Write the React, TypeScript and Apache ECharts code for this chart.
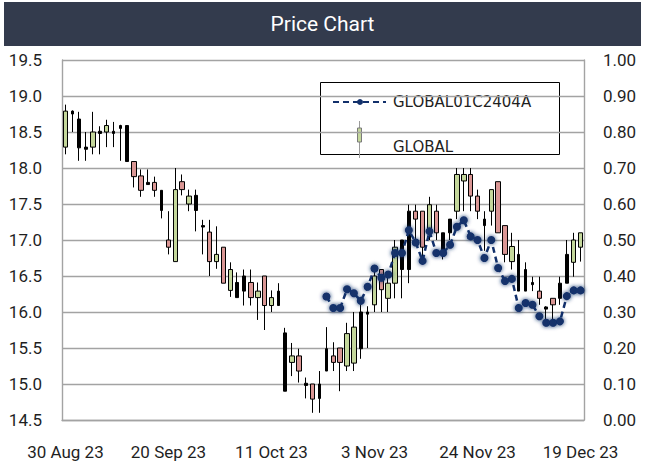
import React, { useEffect, useRef } from "react";
import * as echarts from "echarts";

// Trading days (category axis)
const dates: string[] = [
  "30 Aug 23", "31 Aug 23", "1 Sep 23", "4 Sep 23", "5 Sep 23", "6 Sep 23", "7 Sep 23", "8 Sep 23",
  "11 Sep 23", "12 Sep 23", "13 Sep 23", "14 Sep 23", "15 Sep 23", "18 Sep 23", "19 Sep 23", "20 Sep 23",
  "21 Sep 23", "22 Sep 23", "25 Sep 23", "26 Sep 23", "27 Sep 23", "28 Sep 23", "29 Sep 23",
  "2 Oct 23", "3 Oct 23", "4 Oct 23", "5 Oct 23", "6 Oct 23", "9 Oct 23", "10 Oct 23", "11 Oct 23",
  "12 Oct 23", "16 Oct 23", "17 Oct 23", "18 Oct 23", "19 Oct 23", "20 Oct 23", "24 Oct 23", "25 Oct 23",
  "26 Oct 23", "27 Oct 23", "30 Oct 23", "31 Oct 23", "1 Nov 23", "2 Nov 23", "3 Nov 23",
  "6 Nov 23", "7 Nov 23", "8 Nov 23", "9 Nov 23", "10 Nov 23", "13 Nov 23", "14 Nov 23", "15 Nov 23",
  "16 Nov 23", "17 Nov 23", "20 Nov 23", "21 Nov 23", "22 Nov 23", "23 Nov 23", "24 Nov 23",
  "27 Nov 23", "28 Nov 23", "29 Nov 23", "30 Nov 23", "1 Dec 23", "4 Dec 23", "6 Dec 23", "7 Dec 23",
  "8 Dec 23", "12 Dec 23", "13 Dec 23", "14 Dec 23", "15 Dec 23", "18 Dec 23", "19 Dec 23",
];

// GLOBAL OHLC
const opens: number[] = [
  18.29, 18.79, 18.68, 18.29, 18.29, 18.51, 18.50, 18.51, 18.59, 18.59,
  18.09, 17.89, 17.80, 17.80, 17.69, 17.00, 16.70, 17.81, 17.50, 17.62,
  17.20, 17.11, 16.70, 16.90, 16.30, 16.41, 16.50, 16.41, 16.20, 16.50,
  16.09, 16.29, 15.71, 15.30, 15.39, 15.01, 15.00, 15.00, 15.49, 15.39,
  15.50, 15.25, 15.29, 16.00, 16.00, 16.10, 16.59, 16.19, 16.40, 17.00,
  17.40, 17.40, 17.40, 17.10, 17.40, 17.10, 17.29, 17.40, 17.82, 17.91,
  17.61, 17.29, 17.40, 17.81, 17.20, 16.70, 16.80, 16.59, 16.41, 16.29,
  16.07, 16.19, 16.40, 16.80, 16.69, 16.90,
];
const closes: number[] = [
  18.79, 18.75, 18.28, 18.26, 18.50, 18.48, 18.59, 18.48, 18.55, 18.09,
  17.88, 17.69, 17.77, 17.69, 17.41, 16.90, 17.70, 17.70, 17.61, 17.41,
  17.18, 16.70, 16.80, 16.40, 16.59, 16.20, 16.29, 16.20, 16.29, 16.09,
  16.20, 16.09, 14.90, 15.39, 15.18, 14.98, 14.79, 14.80, 15.18, 15.30,
  15.30, 15.70, 15.79, 15.49, 15.97, 16.50, 16.31, 16.40, 16.90, 16.59,
  16.59, 17.29, 16.90, 17.49, 17.10, 16.84, 17.10, 17.91, 17.91, 17.61,
  17.40, 17.20, 17.70, 17.10, 16.80, 16.91, 16.29, 16.29, 16.38, 16.19,
  16.04, 16.10, 16.19, 16.40, 17.00, 17.10,
];
const lows: number[] = [
  18.19, 18.50, 18.10, 18.10, 18.19, 18.19, 18.29, 18.29, 18.10, 18.09,
  17.73, 17.60, 17.77, 17.60, 17.30, 16.80, 16.70, 17.62, 17.40, 17.12,
  16.80, 16.50, 16.60, 16.40, 16.21, 16.20, 16.09, 16.09, 15.89, 15.75,
  16.00, 16.09, 14.90, 15.11, 15.02, 14.80, 14.60, 14.60, 15.18, 15.18,
  14.90, 15.18, 15.18, 15.35, 15.50, 16.00, 16.00, 16.00, 16.19, 16.19,
  16.40, 17.00, 16.68, 17.00, 17.00, 16.73, 17.00, 17.29, 17.40, 17.40,
  17.29, 16.85, 17.20, 17.10, 16.69, 16.59, 16.29, 16.29, 16.29, 16.10,
  15.85, 15.85, 16.10, 16.40, 16.49, 16.70,
];
const highs: number[] = [
  18.88, 18.80, 18.78, 18.50, 18.78, 18.58, 18.67, 18.64, 18.60, 18.59,
  18.09, 17.98, 17.98, 17.88, 17.69, 17.40, 18.00, 17.91, 17.70, 17.70,
  17.28, 17.28, 17.19, 16.90, 16.69, 16.55, 16.59, 16.59, 16.41, 16.50,
  16.30, 16.40, 15.78, 15.57, 15.49, 15.09, 15.00, 15.18, 15.79, 15.58,
  15.50, 15.85, 16.00, 16.10, 16.08, 16.59, 16.59, 16.50, 17.00, 17.00,
  17.49, 17.49, 17.40, 17.60, 17.49, 17.10, 17.29, 18.00, 18.00, 18.00,
  17.70, 17.40, 17.70, 17.81, 17.20, 17.10, 17.00, 16.69, 16.49, 16.49,
  16.08, 16.19, 16.49, 17.00, 17.10, 17.10,
];
// indices of candles drawn as solid black bars
const solidBars: number[] = [
  1, 2, 3, 5, 7, 8, 9, 12, 14, 19, 20, 25, 26, 31, 32, 35, 37, 38, 43, 44,
  49, 50, 55, 56, 61, 66, 67, 68, 70, 72, 73,
];

// GLOBAL01C2404A (right axis), starting at index DW_START
const DW_START = 38;
const dwValues: number[] = [
  0.343, 0.311, 0.311, 0.363, 0.352, 0.331, 0.370, 0.421, 0.395, 0.404,
  0.464, 0.464, 0.527, 0.493, 0.442, 0.524, 0.464, 0.464, 0.487, 0.537,
  0.555, 0.510, 0.500, 0.450, 0.500, 0.422, 0.386, 0.392, 0.311, 0.325,
  0.320, 0.288, 0.270, 0.270, 0.274, 0.344, 0.360, 0.360,
];

const NAVY = "#12306b";
const AXIS_FONT = "Roboto";
const TEXT_COLOR = "#1f1f1f";
const GRID_COLOR = "#a3a3a3";

export default function App() {
  const ref = useRef<HTMLDivElement>(null);

  useEffect(() => {
    if (!ref.current) return;
    const chart = echarts.init(ref.current, undefined, { renderer: "svg" });
    const empty = ["-", "-", "-", "-"];
    const ohlc = dates.map((_, i) => [opens[i], closes[i], lows[i], highs[i]]);
    const solidSet = new Set(solidBars);
    const candleData = ohlc.map((v, i) => (solidSet.has(i) ? empty : v));
    const solidData = ohlc.map((v, i) => (solidSet.has(i) ? v : empty));
    const dwData = dates.map((_, i) => (i < DW_START ? null : dwValues[i - DW_START]));

    const option: any = {
      animation: false,
      backgroundColor: "#ffffff",
      grid: { left: 62, right: 61, top: 60, bottom: 41, containLabel: false, outerBoundsMode: "none" },
      xAxis: {
        type: "category",
        data: dates,
        boundaryGap: true,
        axisLine: { show: true, lineStyle: { color: GRID_COLOR, width: 1.4 } },
        axisTick: { show: false },
        axisLabel: { interval: 14, color: TEXT_COLOR, fontSize: 17, fontFamily: AXIS_FONT, margin: 23 },
        splitLine: { show: false },
      },
      yAxis: [
        {
          type: "value",
          min: 14.5,
          max: 19.5,
          interval: 0.5,
          position: "left",
          axisLine: { show: true, lineStyle: { color: GRID_COLOR, width: 1.4 } },
          axisTick: { show: false },
          axisLabel: {
            formatter: (v: number) => v.toFixed(1),
            color: TEXT_COLOR,
            fontSize: 17,
            fontFamily: AXIS_FONT,
            margin: 20,
          },
          splitLine: { show: true, lineStyle: { color: GRID_COLOR, width: 1.4 } },
        },
        {
          type: "value",
          min: 0,
          max: 1,
          interval: 0.1,
          position: "right",
          axisLine: { show: true, lineStyle: { color: GRID_COLOR, width: 1.4 } },
          axisTick: { show: false },
          axisLabel: {
            formatter: (v: number) => v.toFixed(2),
            color: TEXT_COLOR,
            fontSize: 17,
            fontFamily: AXIS_FONT,
            margin: 19,
          },
          splitLine: { show: false },
        },
      ],
      series: [
        {
          name: "GLOBAL",
          type: "candlestick",
          data: candleData,
          barWidth: 5,
          itemStyle: {
            color: "#c4d79b",
            color0: "#da9694",
            borderColor: "#000000",
            borderColor0: "#000000",
            borderColorDoji: "#000000",
            borderWidth: 1,
          },
          z: 2,
        },
        {
          name: "GLOBAL",
          type: "candlestick",
          data: solidData,
          barWidth: 3,
          itemStyle: {
            color: "#000000",
            color0: "#000000",
            borderColor: "#000000",
            borderColor0: "#000000",
            borderColorDoji: "#000000",
            borderWidth: 1,
          },
          z: 2,
        },
        {
          name: "GLOBAL01C2404A",
          type: "line",
          yAxisIndex: 1,
          data: dwData,
          symbol: "circle",
          symbolSize: 8,
          showSymbol: true,
          showAllSymbol: true,
          connectNulls: false,
          lineStyle: { color: NAVY, width: 2.5, type: [6, 4] },
          itemStyle: { color: NAVY, shadowBlur: 4, shadowColor: NAVY },
          z: 3,
        },
      ],
      graphic: [
        {
          type: "rect",
          shape: { x: 4, y: 2, width: 637, height: 44 },
          style: { fill: "#333b4d" },
          silent: true,
        },
        {
          type: "text",
          x: 322.5,
          y: 24,
          style: {
            text: "Price Chart",
            fill: "#ffffff",
            font: '21px "Roboto"',
            align: "center",
            verticalAlign: "middle",
            textAlign: "center",
            textVerticalAlign: "middle",
          },
          silent: true,
        },
        {
          type: "group",
          z: 10,
          children: [
            {
              type: "rect",
              shape: { x: 320.5, y: 82.5, width: 239, height: 72 },
              style: { fill: "#ffffff", stroke: "#000000", lineWidth: 1 },
            },
            {
              type: "line",
              shape: { x1: 333, y1: 102, x2: 386, y2: 102 },
              style: { stroke: NAVY, lineWidth: 2, lineDash: [6, 4] },
            },
            {
              type: "circle",
              shape: { cx: 360, cy: 102, r: 3 },
              style: { fill: NAVY },
            },
            {
              type: "text",
              x: 393,
              y: 102,
              style: {
                text: "GLOBAL01C2404A",
                fill: TEXT_COLOR,
                font: '15px "DejaVu Sans"',
                align: "left",
                verticalAlign: "middle",
                textAlign: "left",
                textVerticalAlign: "middle",
              },
            },
            {
              type: "line",
              shape: { x1: 359.5, y1: 121, x2: 359.5, y2: 158 },
              style: { stroke: "#9a9a9a", lineWidth: 1 },
            },
            {
              type: "rect",
              shape: { x: 357.5, y: 128, width: 4, height: 14 },
              style: { fill: "#c4d79b", stroke: "#7a7a7a", lineWidth: 1 },
            },
            {
              type: "text",
              x: 393,
              y: 147,
              style: {
                text: "GLOBAL",
                fill: TEXT_COLOR,
                font: '15px "DejaVu Sans"',
                align: "left",
                verticalAlign: "middle",
                textAlign: "left",
                textVerticalAlign: "middle",
              },
            },
          ],
        },
      ],
    };

    chart.setOption(option);
    return () => chart.dispose();
  }, []);

  return (
    <div
      ref={ref}
      style={{ position: "fixed", left: 0, top: 0, width: 645, height: 461, background: "#ffffff" }}
    />
  );
}
